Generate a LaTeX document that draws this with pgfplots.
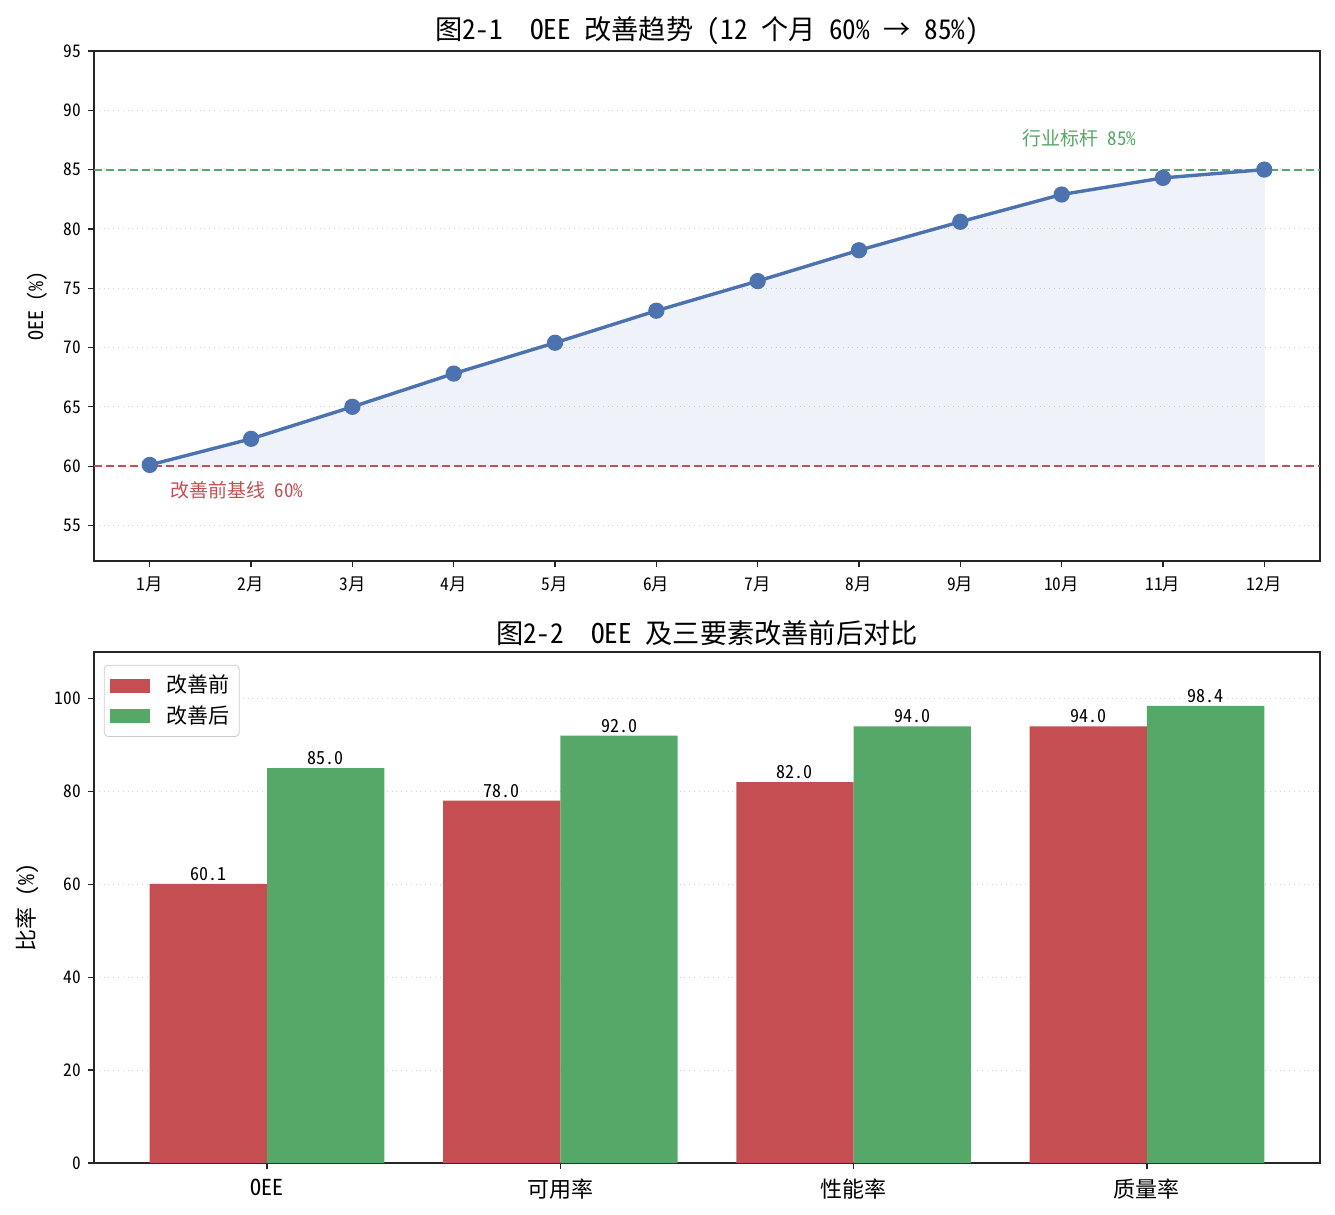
\documentclass[border=0pt]{standalone}
\usepackage{pgfplots}
\pgfplotsset{compat=1.18}
\usepackage{fontspec}
\setmainfont{Noto Sans CJK SC}[RawFeature=+hwid]
\definecolor{cblue}{HTML}{4C72B0}
\definecolor{cred}{HTML}{C44E52}
\definecolor{cgreen}{HTML}{55A868}
\definecolor{axc}{HTML}{262626}
\begin{document}
\begin{tikzpicture}
\pgfplotsset{
  every axis/.append style={
    scale only axis,
    axis line style={axc, line width=0.7pt},
    tick style={axc, line width=0.6pt},
    major tick length=3pt,
    tick align=outside,
    /pgf/number format/assume math mode=true,
    ymajorgrids,
    grid style={dotted, line width=0.5pt, gray!35},
    ticklabel style={font=\fontsize{8.7}{10}\selectfont},
    title style={font=\fontsize{13.6}{15}\selectfont, yshift=-6.5pt},
  }
}
\begin{axis}[
  at={(0,0)}, anchor=south west,
  width=613pt, height=255pt,
  xmin=0.45, xmax=12.55, ymin=52, ymax=95,
  xtick={1,...,12},
  xticklabels={1月,2月,3月,4月,5月,6月,7月,8月,9月,10月,11月,12月},
  xticklabel style={yshift=-1.5pt},
  ytick={55,60,...,95},
  xtick pos=bottom, ytick pos=left,
  ylabel={OEE (\%)},
  ylabel style={font=\fontsize{10}{12}\selectfont, yshift=1pt},
  title={图2-1\ \ OEE 改善趋势 (12 个月 60\% → 85\%)},
]
\addplot[fill=cblue, fill opacity=0.09, draw=cblue, draw opacity=0.08] coordinates {
(1,60.1) (2,62.3) (3,65.0) (4,67.8) (5,70.4) (6,73.1) (7,75.6) (8,78.2) (9,80.6) (10,82.9) (11,84.3) (12,85.0) (12,60) (1,60)} -- cycle;
\addplot[color=cred, line width=1pt, dash pattern=on 4pt off 2pt] coordinates {(0.45,60) (12.55,60)};
\addplot[color=cgreen, line width=1pt, dash pattern=on 4pt off 2pt] coordinates {(0.45,85) (12.55,85)};
\addplot[color=cblue, line width=1.7pt, mark=*, mark size=3.2pt, mark options={solid, fill=cblue, draw=cblue}] coordinates {
(1,60.1) (2,62.3) (3,65.0) (4,67.8) (5,70.4) (6,73.1) (7,75.6) (8,78.2) (9,80.6) (10,82.9) (11,84.3) (12,85.0)};
\node[anchor=west, text=cgreen, font=\fontsize{9.5}{11}\selectfont, inner sep=0pt] at (axis cs:9.61,87.6) {行业标杆 85\%};
\node[anchor=west, text=cred, font=\fontsize{9.5}{11}\selectfont, inner sep=0pt] at (axis cs:1.2,58.0) {改善前基线 60\%};
\end{axis}

\begin{axis}[
  at={(0,-301pt)}, anchor=south west,
  width=613pt, height=255.5pt,
  xmin=-0.59, xmax=3.59, ymin=0, ymax=110,
  xtick={0,1,2,3},
  xticklabels={OEE,可用率,性能率,质量率},
  xticklabel style={font=\fontsize{11}{13}\selectfont, yshift=-1.5pt},
  ytick={0,20,...,100},
  xtick pos=bottom, ytick pos=left,
  ylabel={比率 (\%)},
  ylabel style={font=\fontsize{11}{13}\selectfont, yshift=1pt},
  title={图2-2\ \ OEE 及三要素改善前后对比},
  ybar, bar width=0.4,
  nodes near coords,
  nodes near coords style={font=\fontsize{9}{10}\selectfont, text=black, /pgf/number format/fixed, /pgf/number format/fixed zerofill, /pgf/number format/precision=1, inner sep=1.5pt},
  legend style={at={(0.008,0.975)}, anchor=north west, draw=gray!40, rounded corners=2pt, font=\fontsize{10.5}{12}\selectfont, row sep=1pt, inner sep=3pt},
  legend cell align=left,
  legend image code/.code={\fill[#1, sharp corners] (0pt,-3.5pt) rectangle (20pt,3.5pt);},
]
\addplot[fill=cred, draw=none, bar shift=-0.2] coordinates {(0,60.1) (1,78.0) (2,82.0) (3,94.0)};
\addlegendentry{\hspace{6pt}改善前}
\addplot[fill=cgreen, draw=none, bar shift=0.2] coordinates {(0,85.0) (1,92.0) (2,94.0) (3,98.4)};
\addlegendentry{\hspace{6pt}改善后}
\end{axis}
\pgfresetboundingbox
\path[use as bounding box] (-47pt,-327pt) rectangle (620.5pt,280.5pt);
\end{tikzpicture}
\end{document}
